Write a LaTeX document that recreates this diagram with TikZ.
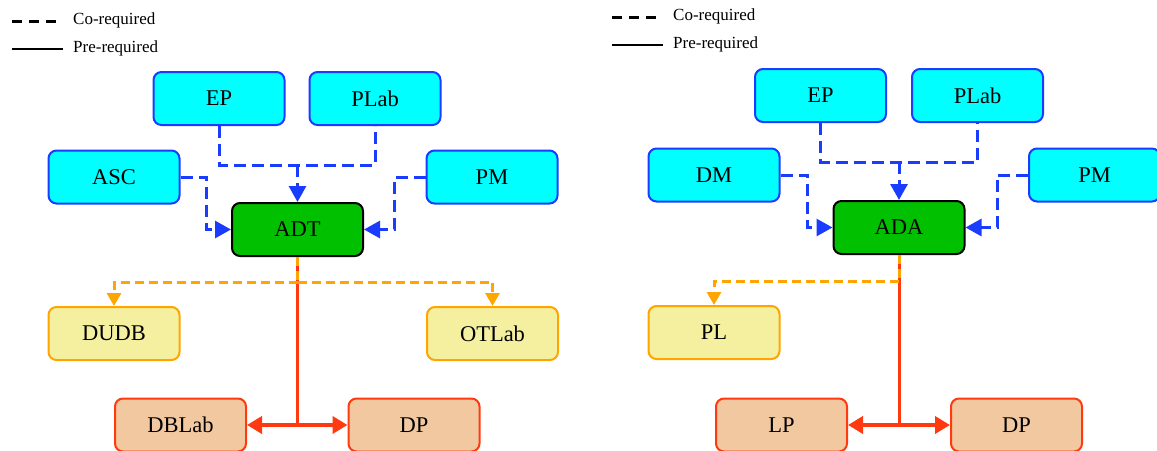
\documentclass[tikz,border=0pt]{standalone}
\usepackage{fontspec}
\setmainfont{Liberation Serif}
\usetikzlibrary{arrows.meta,positioning,calc}
\definecolor{cCyan}{HTML}{00FFFF}
\definecolor{cBlue}{HTML}{1A3CFF}
\definecolor{cGreen}{HTML}{00C000}
\definecolor{cYell}{HTML}{F5F0A0}
\definecolor{cOrange}{HTML}{FFA500}
\definecolor{cTan}{HTML}{F2C8A0}
\definecolor{cRed}{HTML}{FF3A10}

\begin{document}
\begin{tikzpicture}[
  x=1pt,y=-1pt,
  font=\fontsize{22.5}{26}\selectfont,
  box/.style={draw,line width=2pt,rounded corners=8pt,minimum width=131pt,minimum height=53pt,inner sep=0pt},
  prereq/.style={box,draw=cBlue,fill=cCyan},
  course/.style={box,draw=black,fill=cGreen},
  followon/.style={box,draw=cOrange,fill=cYell},
  target/.style={box,draw=cRed,fill=cTan},
  co/.style={line width=3pt,color=cBlue,dash pattern=on 12pt off 6pt},
  coar/.style={co,-{Triangle[length=16pt,width=17pt]}},
  opt/.style={line width=3pt,color=cOrange,dash pattern=on 9pt off 5pt},
  optar/.style={opt,-{Triangle[length=13pt,width=14pt]}},
  pre/.style={line width=3pt,color=cRed},
  prear/.style={line width=4.5pt,color=cRed,-{Triangle[length=15pt,width=17pt]}},
  key/.style={font=\fontsize{17}{20}\selectfont,anchor=west,inner sep=0pt},
]
\useasboundingbox (0,0) rectangle (1157,450);

% ============================================================ A. left chart
\draw[line width=3pt,dash pattern=on 10pt off 7pt] (12,21) -- (63,21);
\node[key] (lco) at (73,20) {Co-required};
\draw[line width=1.5pt] (12,49) -- (63,49);
\node[key] (lpre) at (73,48) {Pre-required};

\node[prereq] (lep)   at (219,98.5)  {EP};
\node[prereq] (lplab) at (375,98.5)  {PLab};
\node[prereq] (lasc)  at (114,177)   {ASC};
\node[prereq] (lpm)   at (492,177)   {PM};
\node[course] (adt)   at (297.5,229.5) {ADT};
\node[followon] (dudb)  at (114,333.5) {DUDB};
\node[followon] (otlab) at (492.5,333.5) {OTLab};
\node[target] (dblab) at (180.5,425) {DBLab};
\node[target] (ldp)   at (414,425)   {DP};

% co-required inputs
\coordinate (lbus) at (297.5,165);
\draw[co] (lep.south) |- (lbus) -| (lplab.south);
\draw[coar] (lbus) -- (adt.north);
\draw[coar] (lasc.east) -- ++(26,0) |- (adt.west);
\draw[coar] (lpm.west) -- ++(-31,0) |- (adt.east);
% outputs
\coordinate (lfork) at (297.5,425);
\draw[pre] (adt.south) -- (lfork);
\draw[prear] (lfork) -- (dblab.east);
\draw[prear] (lfork) -- (ldp.west);
\coordinate (lsplit) at (297.5,282);
\draw[opt] (adt.south) -- (lsplit);
\draw[optar] (lsplit) -| (dudb.north);
\draw[optar] (lsplit) -| (otlab.north);

% ============================================================ B. right chart
\draw[line width=3pt,dash pattern=on 10pt off 7pt] (612,17) -- (663,17);
\node[key] (rco) at (673,16) {Co-required};
\draw[line width=1.5pt] (612,45) -- (663,45);
\node[key] (rpre) at (673,44) {Pre-required};

\node[prereq] (rep)   at (820.5,95.5) {EP};
\node[prereq] (rplab) at (977.5,95.5) {PLab};
\node[prereq] (rdm)   at (714,175)   {DM};
\node[prereq] (rpm)   at (1094.5,175) {PM};
\node[course] (ada)   at (899,227.5) {ADA};
\node[followon] (pl)  at (714,332.5) {PL};
\node[target] (lp)    at (781.5,425) {LP};
\node[target] (rdp)   at (1016.5,425) {DP};

% co-required inputs
\coordinate (rbus) at (899,162);
\draw[co] (rep.south) |- (rbus) -| (rplab.south);
\draw[coar] (rbus) -- (ada.north);
\draw[coar] (rdm.east) -- ++(27,0) |- (ada.west);
\draw[coar] (rpm.west) -- ++(-31,0) |- (ada.east);
% outputs
\coordinate (rfork) at (899,425);
\draw[pre] (ada.south) -- (rfork);
\draw[prear] (rfork) -- (lp.east);
\draw[prear] (rfork) -- (rdp.west);
\coordinate (rsplit) at (899,281);
\draw[opt] (ada.south) -- (rsplit);
\draw[optar] (rsplit) -| (pl.north);

\end{tikzpicture}
\end{document}
